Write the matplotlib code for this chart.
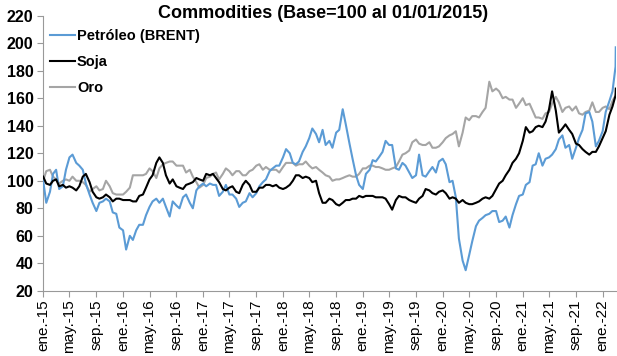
import numpy as np
import pandas as pd
import matplotlib
matplotlib.use('Agg')
import matplotlib.pyplot as plt

plt.rcParams['font.family'] = ['Liberation Sans', 'DejaVu Sans']

# fechas: 1 y 15 de cada mes, mas el ultimo dato
fechas = list(pd.date_range('2015-01-01', '2022-03-01', freq='SMS')) + [pd.Timestamp('2022-03-02')]

# Petroleo (BRENT), base 100
brent = [
    # 2015
    100, 84, 92, 105, 108, 94, 96, 108, 117, 119, 113, 111,
    108, 98, 90, 84, 78, 84, 85, 87, 85, 77, 76, 66,
    # 2016
    64, 50, 60, 57, 64, 68, 68, 75, 81, 85, 87, 84,
    87, 81, 74, 85, 82, 80, 88, 90, 84, 80, 93, 96,
    # 2017
    98, 96, 98, 97, 97, 89, 92, 97, 90, 90, 87, 81,
    84, 85, 91, 88, 91, 96, 99, 101, 107, 109, 111, 111,
    # 2018
    117, 123, 120, 113, 112, 114, 121, 125, 131, 138, 134, 128,
    137, 126, 129, 124, 135, 137, 152, 141, 127, 116, 104, 97,
    # 2019
    94, 105, 108, 115, 114, 117, 121, 129, 126, 126, 109, 108,
    113, 111, 106, 102, 104, 119, 104, 103, 107, 110, 106, 114,
    # 2020
    116, 112, 99, 100, 88, 58, 42, 35, 46, 56, 67, 71,
    73, 75, 76, 78, 78, 70, 71, 74, 66, 75, 83, 89,
    # 2021
    90, 97, 99, 111, 112, 120, 111, 116, 117, 119, 123, 130,
    133, 124, 126, 116, 124, 131, 137, 149, 150, 143, 125, 129,
    # 2022
    136, 150, 158, 165, 183, 197,
]

soja = [
    # 2015
    103, 98, 97, 100, 101, 96, 97, 95, 96, 95, 93, 96,
    103, 105, 99, 92, 88, 87, 88, 90, 88, 85, 87, 87,
    # 2016
    86, 86, 86, 85, 85, 89, 90, 95, 101, 104, 113, 117,
    113, 104, 98, 101, 96, 95, 94, 97, 98, 99, 102, 101,
    # 2017
    100, 105, 104, 105, 102, 99, 94, 93, 95, 96, 92, 91,
    97, 100, 97, 92, 92, 95, 95, 97, 97, 96, 97, 95,
    # 2018
    94, 95, 97, 100, 104, 104, 102, 103, 102, 99, 100, 91,
    84, 84, 87, 86, 83, 82, 84, 86, 86, 87, 87, 89,
    # 2019
    88, 89, 89, 89, 88, 88, 88, 87, 83, 79, 86, 89,
    88, 88, 86, 85, 84, 87, 89, 94, 93, 91, 90, 92,
    # 2020
    93, 91, 87, 88, 87, 84, 86, 84, 83, 83, 84, 85,
    87, 88, 87, 89, 94, 98, 100, 104, 108, 113, 116, 120,
    # 2021
    129, 139, 135, 136, 139, 140, 139, 143, 152, 165, 151, 135,
    138, 141, 137, 134, 127, 126, 123, 121, 119, 121, 121, 125,
    # 2022
    131, 136, 148, 154, 162, 167,
]

oro = [
    # 2015
    100, 107, 108, 103, 101, 98, 100, 101, 100, 103, 100, 100,
    99, 97, 92, 94, 96, 93, 94, 100, 96, 91, 90, 90,
    # 2016
    90, 92, 95, 104, 104, 104, 104, 105, 109, 107, 102, 109,
    112, 113, 114, 114, 111, 111, 111, 106, 108, 103, 99, 95,
    # 2017
    97, 102, 103, 105, 106, 101, 105, 109, 107, 104, 107, 107,
    104, 104, 107, 108, 111, 112, 108, 110, 108, 108, 108, 106,
    # 2018
    110, 113, 113, 113, 111, 112, 112, 114, 111, 109, 110, 108,
    106, 104, 103, 100, 101, 101, 102, 103, 104, 103, 103, 105,
    # 2019
    109, 109, 111, 111, 110, 110, 109, 108, 108, 109, 110, 114,
    119, 120, 122, 128, 130, 127, 126, 126, 128, 124, 124, 125,
    # 2020
    128, 131, 133, 134, 136, 125, 135, 146, 144, 147, 147, 146,
    150, 153, 172, 165, 167, 165, 160, 161, 159, 159, 153, 156,
    # 2021
    160, 155, 156, 151, 146, 146, 145, 149, 150, 156, 161, 157,
    150, 153, 154, 151, 154, 149, 148, 150, 151, 157, 150, 150,
    # 2022
    153, 154, 152, 158, 162, 163,
]

series = ['Petróleo (BRENT)', 'Soja', 'Oro']

ticks = pd.date_range('2015-01-01', '2022-01-01', freq='4MS')
meses = {1: 'ene.', 5: 'may.', 9: 'sep.'}
tick_labels = ['{}-{:02d}'.format(meses[t.month], t.year % 100) for t in ticks]

df = pd.DataFrame({'Petróleo (BRENT)': brent, 'Soja': soja, 'Oro': oro}, index=fechas)

fig = plt.figure(figsize=(6.17, 3.56), dpi=100)
ax = fig.add_axes([0.070, 0.183, 0.928, 0.773])

lines = {}
for name, c, z in zip(['Oro', 'Petróleo (BRENT)', 'Soja'], ['#A5A5A5', '#5B9BD5', '#000000'], [2, 3, 4]):
    ln, = ax.plot(df.index, df[name], color=c, lw=1.5, zorder=z, label=name)
    lines[name] = ln

ax.set_ylim(20, 220)
ax.set_yticks(np.arange(20, 221, 20))
ax.set_xlim(fechas[0], fechas[-1])
ax.set_xticks(ticks)
ax.set_xticklabels(tick_labels, rotation=90, fontsize=11)
for lab in ax.get_yticklabels():
    lab.set_fontweight('bold')
    lab.set_fontsize(11.5)

for s in ['top', 'right']:
    ax.spines[s].set_visible(False)
for s in ['left', 'bottom']:
    ax.spines[s].set_color('#999999')
    ax.spines[s].set_linewidth(0.8)
ax.tick_params(axis='both', color='#999999', length=4, width=0.8)
ax.tick_params(axis='y', pad=3)
ax.tick_params(axis='x', pad=2)

fig.text(0.523, 1 - 13.0 / 356, 'Commodities (Base=100 al 01/01/2015)', fontsize=13, fontweight='bold',
         ha='center', va='center')

leg = ax.legend([lines[n] for n in series], series, loc='upper left', bbox_to_anchor=(-0.006, 0.987),
                frameon=False, prop={'weight': 'bold', 'size': 10.5}, handlelength=1.75,
                handletextpad=0.1, labelspacing=0.8, borderaxespad=0.3)

fig.savefig('out.png', dpi=100)
